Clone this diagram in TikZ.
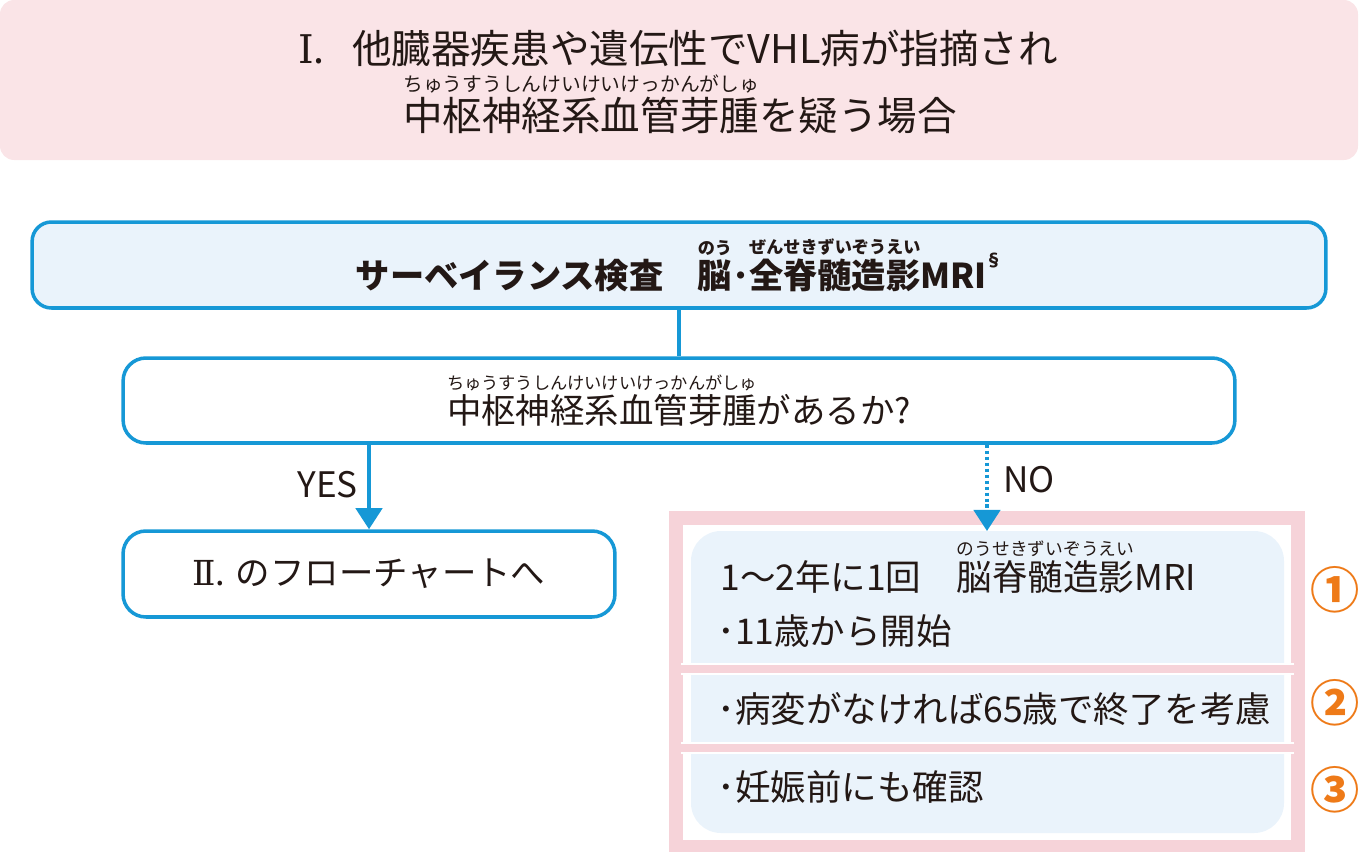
\documentclass[tikz,border=0pt]{standalone}
\usepackage{fontspec}
\setmainfont{Noto Sans CJK JP}
\newfontfamily\numeralfont{DejaVu Serif}
\usetikzlibrary{arrows.meta, positioning}

\definecolor{lineblue}{RGB}{22,152,214}
\definecolor{paleblue}{RGB}{234,243,251}
\definecolor{headpink}{RGB}{250,228,231}
\definecolor{framepink}{RGB}{246,211,217}
\definecolor{numorange}{RGB}{238,122,24}
\definecolor{inkdark}{RGB}{35,24,21}

% furigana above a run of kanji
\newcommand{\furi}[2]{\leavevmode\vbox{\offinterlineskip\halign{\hfil##\hfil\cr\scalebox{.5}{#2}\cr\noalign{\kern2pt}#1\cr}}}

\begin{document}
\begin{tikzpicture}[x=0.02cm, y=-0.02cm, >=Latex, inner sep=0pt, text=inkdark,
  flowbox/.style={draw=lineblue, line width=2pt, rounded corners=13pt},
  flowline/.style={draw=lineblue, line width=2.1pt, -{Triangle[width=15pt, length=12pt]}},
  rowtext/.style={anchor=base west, font=\fontsize{20.2}{22}\selectfont},
  circnum/.style={text=numorange, font=\bfseries\fontsize{28}{30}\selectfont}]

  \useasboundingbox (0,0) rectangle (1360,852);

  \fill[headpink, rounded corners=8pt] (0,0) rectangle (1358,160);

  \node[anchor=base, font=\fontsize{22.5}{26}\selectfont] (headA) at (678,63) {{\numeralfont Ⅰ}.\hspace{.7em}他臓器疾患や遺伝性でVHL病が指摘され};
  \node[anchor=base, font=\fontsize{22.5}{26}\selectfont] (headB) at (680,130) {\furi{中枢神経系血管芽腫}{ちゅうすうしんけいけいけっかんがしゅ}を疑う場合};

  \node[flowbox, fill=paleblue, rounded corners=11pt, minimum width=25.88cm, minimum height=1.72cm,
    font=\bfseries\fontsize{19.5}{22}\selectfont] (survey) at (679,265)
    {サーベイランス検査\hspace{1em}\furi{脳}{のう}･\furi{全脊髄造影}{ぜんせきずいぞうえい}MRI\kern-.05em\raisebox{.62em}{\scalebox{.5}{§}}};

  \node[flowbox, fill=white, minimum width=22.24cm, minimum height=1.70cm,
    font=\fontsize{19.6}{22}\selectfont] (question) at (679,400.5)
    {\furi{中枢神経系血管芽腫}{ちゅうすうしんけいけいけっかんがしゅ}があるか?};

  \node[flowbox, fill=white, minimum width=9.84cm, minimum height=1.72cm,
    font=\fontsize{19.6}{22}\selectfont] (result) at (369,574) {{\numeralfont Ⅱ}. のフローチャートへ};

  \draw[draw=lineblue, line width=2.1pt] (survey.south) -- (question.north);

  \draw[flowline] (result.north |- question.south) -- (result.north);
  \node[anchor=base east, font=\fontsize{20}{22}\selectfont] (yes) at (358,497) {YES};

  % plan for the NO branch
  \draw[framepink, line width=8pt] (676,518) rectangle (1298,847);
  \fill[paleblue, rounded corners=17pt] (691,531) rectangle (1284,833);
  \fill[white] (681,663) rectangle (1294,675);
  \fill[white] (681,742) rectangle (1294,754);
  \fill[framepink] (672,665) rectangle (1302,673);
  \fill[framepink] (672,744) rectangle (1302,752);

  \coordinate (noend) at (987,531);
  \draw[flowline, dash pattern=on 1.8pt off 1.6pt] (question.south -| noend) -- (noend);
  \node[anchor=base west, font=\fontsize{20}{22}\selectfont] (no) at (1003,492) {NO};

  \node[rowtext] (planA) at (720,590) {1〜2年に1回\hspace{1em}\furi{脳脊髄造影}{のうせきずいぞうえい}MRI};
  \node[rowtext] (planB) at (717,644) {･11歳から開始};
  \node[rowtext] (planC) at (717,722) {･病変がなければ65歳で終了を考慮};
  \node[rowtext] (planD) at (717,800) {･妊娠前にも確認};

  \node[circnum] (numA) at (1335,590) {①};
  \node[circnum] (numB) at (1335,703) {②};
  \node[circnum] (numC) at (1335,790) {③};

\end{tikzpicture}
\end{document}
